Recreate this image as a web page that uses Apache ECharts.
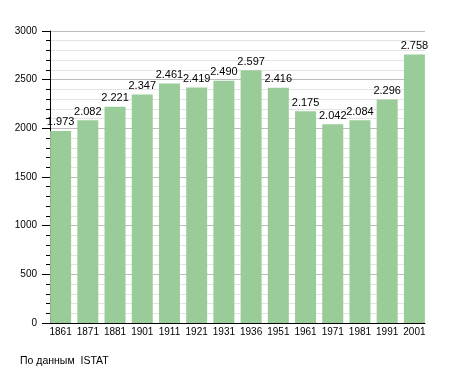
<!DOCTYPE html>
<html><head><meta charset="utf-8">
<script src="https://cdn.jsdelivr.net/npm/echarts@6/dist/echarts.min.js"></script>
<style>html,body{margin:0;padding:0;background:#fff}#c{width:455px;height:373px}</style>
</head><body><div id="c"></div>
<script>
const years = ['1861','1871','1881','1901','1911','1921','1931','1936','1951','1961','1971','1981','1991','2001'];
const population = [1973,2082,2221,2347,2461,2419,2490,2597,2416,2175,2042,2084,2296,2758];
const yTicks = [0,500,1000,1500,2000,2500,3000];
const sourceNote = 'По данным  ISTAT';

const FONT = 'Liberation Sans, Arial, sans-serif';
const fmt = v => { const s = String(v); return s.length > 3 ? s.slice(0, s.length-3) + '.' + s.slice(-3) : s; };

const chart = echarts.init(document.getElementById('c'), null, {renderer:'canvas'});
chart.setOption({
  animation:false,
  backgroundColor:'#fff',
  textStyle:{fontFamily:FONT},
  grid:[
    {left:50, top:31, width:375, height:292, containLabel:false},
    {left:47, top:31, width:381, height:292, containLabel:false}
  ],
  graphic:[{type:'text', left:20, top:356, style:{text:sourceNote, font:'10.5px '+FONT, fill:'#000'}}],
  xAxis:[
    {type:'category', gridIndex:0, data:years, axisLine:{show:true, lineStyle:{color:'#000', width:1}},
     axisTick:{show:false}, axisLabel:{show:false}, splitLine:{show:false}},
    {type:'category', gridIndex:1, data:years, axisLine:{show:false}, axisTick:{show:false},
     axisLabel:{show:true, color:'#000', fontSize:10, fontFamily:FONT, margin:4, interval:0}, splitLine:{show:false}}
  ],
  yAxis:[
    {type:'value', gridIndex:0, min:yTicks[0], max:yTicks[yTicks.length-1], interval:500,
     axisLine:{show:true, lineStyle:{color:'#000', width:1}},
     axisTick:{show:true, length:8, lineStyle:{color:'#000'}},
     minorTick:{show:true, splitNumber:5, length:4, lineStyle:{color:'#000'}},
     axisLabel:{color:'#000', fontSize:10, fontFamily:FONT, margin:13, formatter:v => String(v)},
     splitLine:{show:true, lineStyle:{color:'#bdbdbd', width:1}},
     minorSplitLine:{show:true, lineStyle:{color:'#e4e4e4', width:1}}},
    {type:'value', gridIndex:1, min:yTicks[0], max:yTicks[yTicks.length-1], show:false, splitLine:{show:false}}
  ],
  series:[{
    type:'bar', xAxisIndex:1, yAxisIndex:1, data:population, barWidth:21,
    itemStyle:{color:'#99cc99'},
    label:{show:true, position:'top', distance:3, color:'#000', fontSize:11, fontFamily:FONT,
      formatter:p => fmt(p.value)}
  }]
});
</script></body></html>
